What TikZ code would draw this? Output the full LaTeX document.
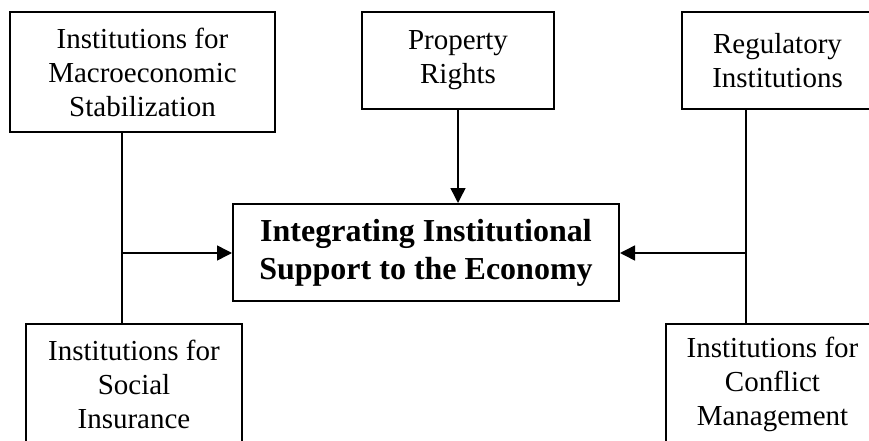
\documentclass[tikz,border=0pt]{standalone}
\usepackage{fontspec}
\setmainfont{Liberation Serif}
\usetikzlibrary{arrows.meta}
\begin{document}
\begin{tikzpicture}[x=1pt,y=-1pt,
  box/.style={draw, line width=2pt, inner sep=0pt, align=center,
    font=\fontsize{29}{34}\selectfont},
  link/.style={line width=1.5pt},
  arr/.style={line width=1.5pt, -{Triangle[length=15pt,width=15pt]}}]
\useasboundingbox (0,0) rectangle (869,441);
\begin{scope}
\clip (0,0) rectangle (869,441);
\node[box, minimum width=265pt, minimum height=120pt] (mac) at (142.5,72)
  {Institutions for\\Macroeconomic\\Stabilization};
\node[box, minimum width=192pt, minimum height=97pt] (prop) at (458,60.5)
  {Property\\Rights};
\node[box, minimum width=191pt, minimum height=97pt] (reg) at (777.5,60.5)
  {Regulatory\\Institutions};
\node[box, minimum width=386pt, minimum height=97pt,
  font=\bfseries\fontsize{32}{38}\selectfont] (core) at (426,252.5)
  {Integrating Institutional\\Support to the Economy};
\node[box, minimum width=216pt, minimum height=120pt] (soc) at (134,384)
  {Institutions for\\Social\\Insurance};
\node[box, minimum width=213pt, minimum height=120pt] (con) at (772.5,384)
  {Institutions for\\Conflict\\Management};
\coordinate (jl) at (122,253);
\coordinate (jr) at (746,253);
\draw[link] (jl |- mac.south) -- (jl |- soc.north);
\draw[link] (jr |- reg.south) -- (jr |- con.north);
\draw[arr] (jl) -- (jl -| core.west);
\draw[arr] (jr) -- (jr -| core.east);
\draw[arr] (prop.south) -- (prop.south |- core.north);
\end{scope}
\end{tikzpicture}
\end{document}
